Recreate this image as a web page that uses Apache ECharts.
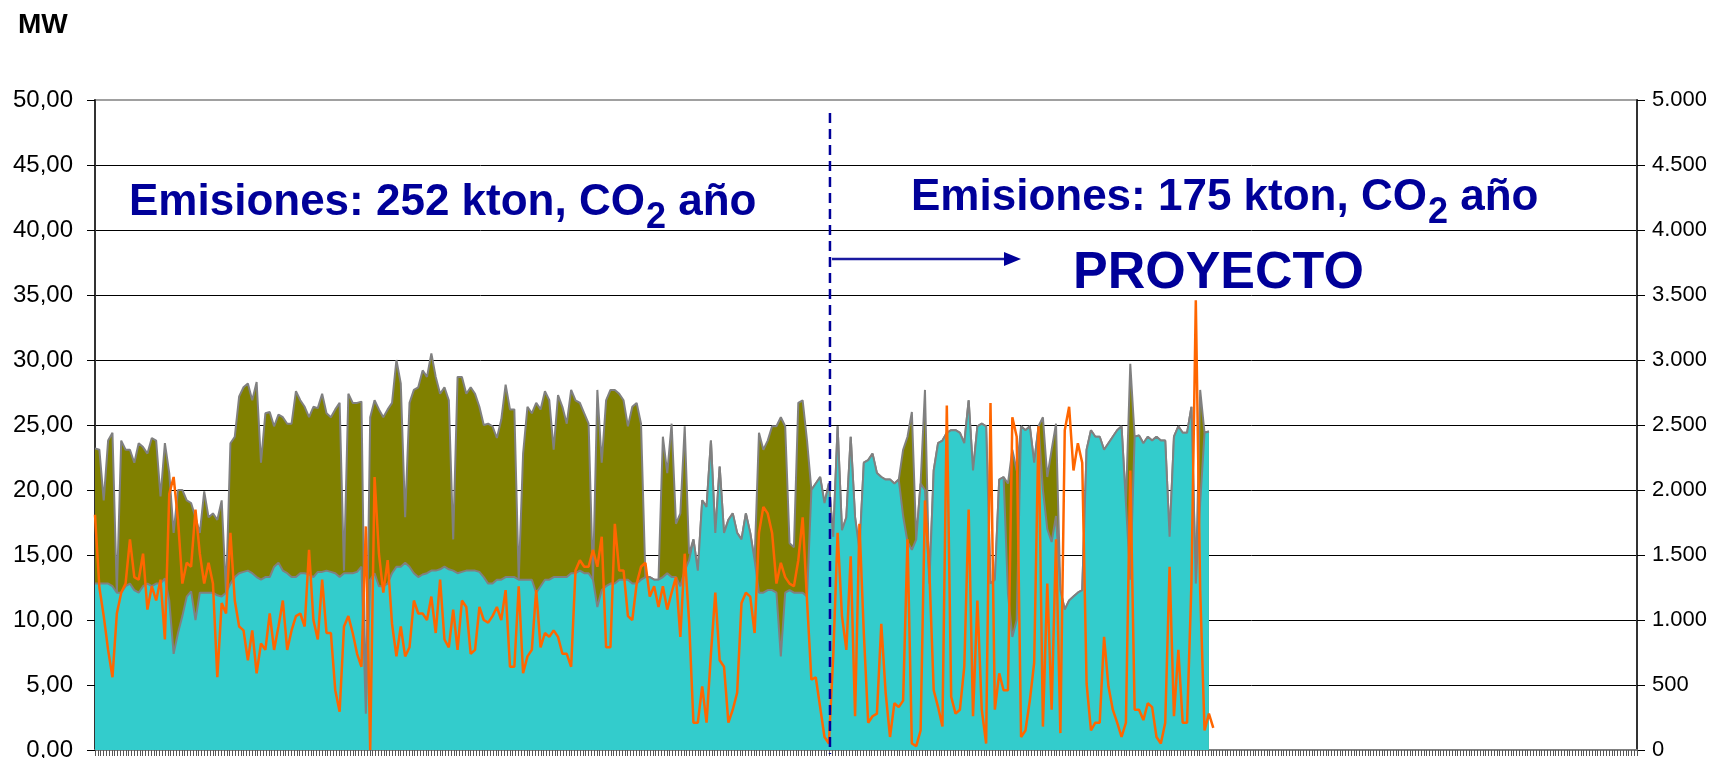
<!DOCTYPE html>
<html>
<head>
<meta charset="utf-8">
<script src="https://cdn.jsdelivr.net/npm/echarts@6/dist/echarts.min.js"></script>
<style>
html,body{margin:0;padding:0;background:#ffffff;}
#chart{width:1711px;height:758px;}
</style>
</head>
<body>
<div id="chart"></div>
<script>
// Upper boundary of the stacked areas (MW) - olive fills up to this
const totalMW = [
23.2,23.1,19.2,23.8,24.4,12.1,23.8,23.1,23.1,22.1,
23.6,23.3,22.8,24.0,23.8,19.5,23.6,21.3,16.7,20.0,
20.0,19.2,19.0,17.9,16.7,19.9,17.9,18.2,17.7,19.2,
12.1,23.6,24.1,27.2,27.9,28.2,26.9,28.3,22.1,25.9,
26.0,24.9,25.8,25.6,25.1,25.1,27.6,26.9,26.4,25.6,
26.4,26.3,27.4,25.9,25.6,26.2,26.7,13.8,27.4,26.7,
26.7,26.8,2.8,25.6,26.9,26.2,25.6,26.2,26.7,30.0,
28.2,17.9,26.7,27.7,27.9,29.2,28.7,30.5,28.7,27.4,
27.9,26.9,16.2,28.7,28.7,27.4,27.9,27.4,26.4,25.0,
25.1,24.9,24.0,25.4,28.1,26.2,26.2,13.1,22.8,26.4,
25.9,26.7,26.2,27.6,26.9,23.1,27.3,26.4,25.1,27.7,
26.9,26.7,25.9,25.1,13.1,27.7,22.1,26.9,27.7,27.7,
27.4,26.9,24.9,26.4,26.7,25.1,13.3,13.3,13.1,13.1,
24.1,21.3,25.1,17.4,18.2,24.9,15.1,16.2,13.8,19.2,
18.7,23.8,16.7,21.8,16.7,17.7,18.2,16.7,16.2,18.2,
16.7,14.6,24.4,23.1,23.8,24.9,24.9,25.6,24.9,15.9,
15.6,26.7,26.9,23.8,20.0,20.5,21.0,19.0,20.5,16.4,
24.9,16.9,17.9,24.1,17.9,15.4,22.1,22.3,22.8,21.3,
21.0,20.8,20.8,20.5,20.8,23.1,24.1,26.0,16.2,20.5,
27.7,12.8,21.5,23.6,23.8,24.4,24.6,24.6,24.4,23.6,
26.9,21.5,24.9,25.1,24.9,12.8,13.1,20.8,21.0,20.5,
23.1,21.5,24.9,24.6,24.9,22.1,24.9,25.6,21.0,23.1,
25.1,12.3,10.8,11.5,11.8,12.1,12.3,23.1,24.6,24.1,
24.1,23.1,23.6,24.1,24.6,24.9,19.0,29.7,24.1,24.2,
23.6,24.1,23.8,24.1,23.8,23.8,16.4,24.1,24.9,24.4,
24.4,26.4,12.8,27.7,24.4,24.5
];
// Base generation (MW) - cyan area
const baseMW = [
12.8,12.8,12.8,12.8,12.6,12.1,12.1,12.6,12.8,12.3,
12.1,12.6,12.8,12.6,12.8,12.8,13.2,11.5,7.4,9.0,
10.3,11.8,12.2,10.0,12.1,12.1,12.1,12.1,11.9,11.8,
12.1,12.8,13.3,13.6,13.7,13.8,13.6,13.3,13.1,13.3,
13.3,14.1,14.4,13.8,13.6,13.3,13.3,13.6,13.6,13.5,
13.3,13.7,13.7,13.8,13.7,13.6,13.3,13.6,13.6,13.6,
13.7,14.1,2.8,13.1,13.6,12.6,12.6,12.8,13.6,14.1,
14.1,14.4,14.1,13.6,13.3,13.5,13.6,13.8,13.8,13.9,
14.1,13.9,13.8,13.6,13.7,13.8,13.8,13.8,13.7,13.3,
12.8,12.8,13.1,13.1,13.3,13.3,13.3,13.1,13.1,13.1,
13.1,12.1,12.6,13.1,13.1,13.3,13.3,13.3,13.3,13.6,
13.6,13.8,13.6,13.6,13.1,11.0,12.3,12.6,12.8,12.8,
13.1,13.1,13.1,12.8,12.8,13.1,13.3,13.3,13.1,13.1,
13.3,13.6,13.3,13.3,12.6,13.8,14.6,16.2,13.8,19.2,
18.7,23.8,16.7,21.8,16.7,17.7,18.2,16.7,16.2,18.2,
16.7,14.6,12.1,12.1,12.3,12.3,12.1,7.2,12.1,12.3,
12.1,12.1,12.1,11.8,20.0,20.5,21.0,19.0,20.5,16.4,
24.9,16.9,17.9,24.1,17.9,15.4,22.1,22.3,22.8,21.3,
21.0,20.8,20.8,20.5,20.8,18.0,16.0,15.4,16.2,20.5,
20.0,12.8,21.5,23.6,23.8,24.4,24.6,24.6,24.4,23.6,
26.9,21.5,24.9,25.1,24.9,12.8,13.1,20.8,21.0,12.0,
8.7,10.0,24.9,24.6,24.9,22.1,24.9,20.0,17.0,16.0,
18.0,12.3,10.8,11.5,11.8,12.1,12.3,23.1,24.6,24.1,
24.1,23.1,23.6,24.1,24.6,24.9,19.0,13.1,24.1,24.2,
23.6,24.1,23.8,24.1,23.8,23.8,16.4,24.1,24.9,24.4,
24.4,26.4,12.8,19.0,24.4,24.5
];
// CO2 emissions series (secondary axis)
const co2 = [
1810,1250,1030,770,560,1050,1210,1280,1620,1330,
1310,1510,1080,1260,1150,1310,850,1970,2100,1770,
1280,1440,1410,1850,1510,1280,1440,1280,560,1130,
1050,1670,1150,950,920,690,920,590,820,770,
1050,770,950,1150,770,920,1030,1050,950,1540,
1000,850,1310,900,900,460,295,950,1030,900,
740,640,1720,0,2100,1510,1210,1460,970,720,
950,720,790,1150,1050,1050,1000,1180,900,1310,
850,790,1080,770,1150,1100,740,770,1100,1000,
980,1030,1100,1000,1230,640,640,1260,590,720,
770,1230,790,900,870,920,870,740,740,640,
1380,1460,1410,1410,1540,1410,1640,790,790,1740,
1380,1380,1030,1000,1280,1410,1440,1180,1260,1100,
1260,1080,1210,1330,870,1510,990,210,210,490,
210,740,1210,690,640,210,310,440,1130,1210,
1180,900,1670,1870,1820,1670,1280,1440,1330,1280,
1260,1460,1790,1150,540,560,330,100,50,720,
1670,1030,770,1490,260,1740,900,210,260,280,
970,440,100,360,330,380,1620,50,30,150,
1920,1380,460,330,180,2650,410,280,310,640,
1850,260,1150,310,50,2670,310,590,460,460,
2560,2410,100,150,380,670,2490,180,1280,310,
1620,130,2460,2640,2150,2360,2210,510,150,210,
210,870,490,310,210,100,210,2150,310,310,
230,360,330,100,50,210,1410,260,770,210,
210,1280,3460,1230,150,280,170
];
const periodCount = 354;      // category slots along the x axis
const tickSlots = 551;        // minor tick marks drawn along the bottom
const dividerIndex = 168.25;  // position of the project start divider (category units)
const leftMax = 50, leftStep = 5;
const rightMax = 5000, rightStep = 500;

const periods = Array.from({length: periodCount}, (_, i) => String(i + 1));
const tickCats = Array.from({length: tickSlots}, (_, i) => String(i));

const FONT = '"Liberation Sans", Arial, Helvetica, sans-serif';
const NAVY = '#000099';

const chart = echarts.init(document.getElementById('chart'), null, {renderer: 'canvas'});

chart.setOption({
  animation: false,
  backgroundColor: '#ffffff',
  grid: {
    left: 95, right: 74, top: 100, bottom: 8,
    show: true, borderColor: '#a0a0a0', borderWidth: 2,
    backgroundColor: 'transparent',
    outerBoundsMode: 'none'
  },
  xAxis: [
    {
      type: 'category', data: periods, boundaryGap: false, position: 'bottom',
      axisLine: {show: true, lineStyle: {color: '#808080', width: 2}},
      axisTick: {show: false}, axisLabel: {show: false}, splitLine: {show: false}
    },
    {
      type: 'category', data: tickCats, boundaryGap: false, position: 'bottom',
      axisLine: {show: false},
      axisTick: {show: true, interval: 0, length: 6, lineStyle: {color: '#555555', width: 1}},
      axisLabel: {show: false}, splitLine: {show: false}
    }
  ],
  yAxis: [
    {
      type: 'value', min: 0, max: leftMax, interval: leftStep, position: 'left',
      axisLine: {show: true, lineStyle: {color: '#333333', width: 2}},
      axisTick: {show: true, inside: false, length: 8, lineStyle: {color: '#000', width: 1}},
      axisLabel: {
        show: true, margin: 22, color: '#000', fontSize: 24, fontFamily: FONT,
        formatter: v => v.toFixed(2).replace('.', ',')
      },
      splitLine: {show: true, showMinLine: false, showMaxLine: false, lineStyle: {color: '#000', width: 1}}
    },
    {
      type: 'value', min: 0, max: rightMax, interval: rightStep, position: 'right',
      axisLine: {show: true, lineStyle: {color: '#333333', width: 2}},
      axisTick: {show: true, inside: false, length: 8, lineStyle: {color: '#000', width: 1}},
      axisLabel: {
        show: true, margin: 15, color: '#000', fontSize: 22, fontFamily: FONT,
        formatter: v => String(v).replace(/\B(?=(\d{3})+(?!\d))/g, '.')
      },
      splitLine: {show: false}
    }
  ],
  series: [
    {
      name: 'Total', type: 'line', data: totalMW, xAxisIndex: 0, yAxisIndex: 0,
      symbol: 'none', showSymbol: false, z: 2,
      lineStyle: {color: '#808080', width: 2},
      areaStyle: {color: '#808000', opacity: 1}
    },
    {
      name: 'Base', type: 'line', data: baseMW, xAxisIndex: 0, yAxisIndex: 0,
      symbol: 'none', showSymbol: false, z: 3,
      lineStyle: {color: '#808080', width: 2},
      areaStyle: {color: '#33CCCC', opacity: 1}
    },
    {
      name: 'CO2', type: 'line', data: co2, xAxisIndex: 0, yAxisIndex: 1,
      symbol: 'none', showSymbol: false, z: 4,
      lineStyle: {color: '#FF6600', width: 2.5}
    }
  ]
});

// ---- annotations ----
const ctx = document.createElement('canvas').getContext('2d');
function measure(text, font) { ctx.font = font; return ctx.measureText(text).width; }
// text placed by alphabetic baseline (converted to middle)
function txt(x, baseline, text, size, weight, color) {
  const font = `${weight} ${size}px ${FONT}`;
  return {
    type: 'text', x: x, y: baseline - 0.3465 * size, z: 100,
    style: {text: text, font: font, fill: color, align: 'left', verticalAlign: 'middle'}
  };
}
function emisiones(x, baseline, num) {
  const mainSize = 44, subSize = 36;
  const p1 = `Emisiones: ${num} kton, CO`;
  const w1 = measure(p1, `bold ${mainSize}px ${FONT}`);
  const w2 = measure('2', `bold ${subSize}px ${FONT}`);
  return [
    txt(x, baseline, p1, mainSize, 'bold', NAVY),
    txt(x + w1 + 1, baseline + 13, '2', subSize, 'bold', NAVY),
    txt(x + w1 + 1 + w2, baseline, ' año', mainSize, 'bold', NAVY)
  ];
}

const x0 = chart.convertToPixel({xAxisIndex: 0}, Math.floor(dividerIndex));
const x1 = chart.convertToPixel({xAxisIndex: 0}, Math.floor(dividerIndex) + 1);
const xDiv = x0 + (dividerIndex - Math.floor(dividerIndex)) * (x1 - x0);

const elements = [
  txt(18, 35, 'MW', 28, 'bold', '#000'),
  ...emisiones(129, 218, '252'),
  ...emisiones(911, 213, '175'),
  txt(1073, 292, 'PROYECTO', 52, 'bold', NAVY),
  {
    type: 'line', z: 90,
    shape: {x1: xDiv, y1: 113, x2: xDiv, y2: 754},
    style: {stroke: NAVY, lineWidth: 2.5, lineDash: [10, 6]}
  },
  {
    type: 'line', z: 90,
    shape: {x1: xDiv + 2, y1: 259, x2: 1006, y2: 259},
    style: {stroke: '#1a1aa0', lineWidth: 2.5}
  },
  {
    type: 'polygon', z: 90,
    shape: {points: [[1004, 252], [1021, 259], [1004, 266]]},
    style: {fill: NAVY}
  }
];
chart.setOption({graphic: {elements: elements}});
</script>
</body>
</html>
